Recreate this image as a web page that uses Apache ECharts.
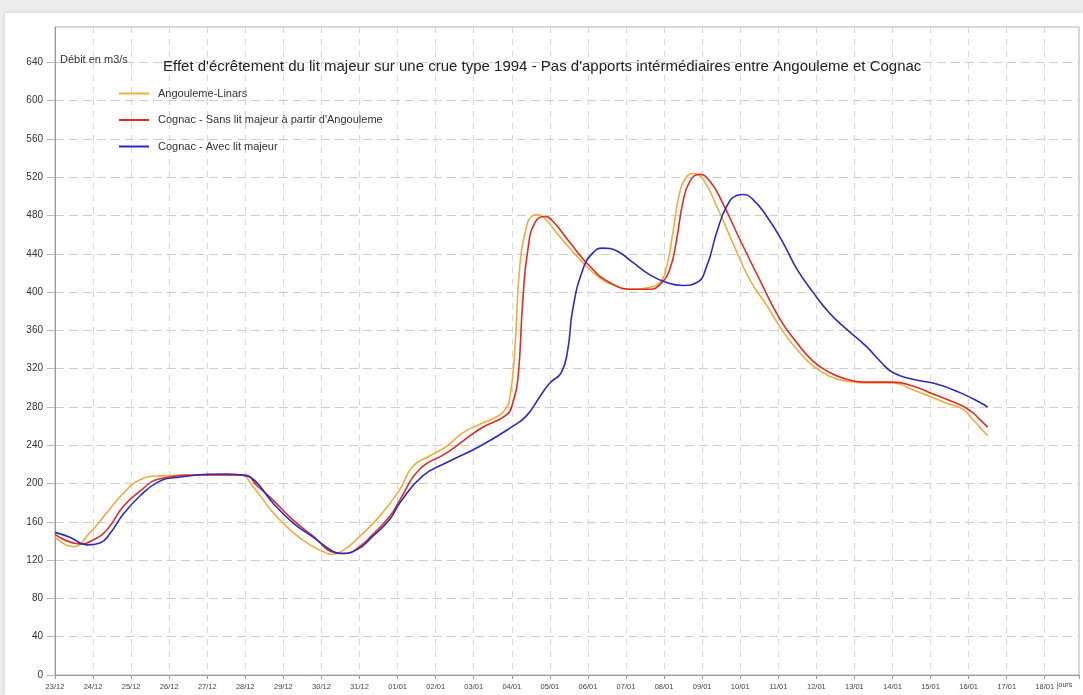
<!DOCTYPE html>
<html>
<head>
<meta charset="utf-8">
<script src="https://cdn.jsdelivr.net/npm/echarts@6/dist/echarts.min.js"></script>
<style>
  html, body { margin: 0; padding: 0; width: 1083px; height: 695px; overflow: hidden; background: #ececec; }
  #panel { position: absolute; left: 5px; top: 13px; right: 0; bottom: 0; background: #fff; box-shadow: -1px -1px 3px rgba(0,0,0,0.08); }
  #chart { position: absolute; left: 0; top: 0; width: 1083px; height: 695px; }
</style>
</head>
<body>
<div id="panel"></div>
<div id="chart"></div>
<script>
// Day labels along the time axis (day 0 = 23/12)
const dayLabels = ['23/12', '24/12', '25/12', '26/12', '27/12', '28/12', '29/12', '30/12', '31/12',
  '01/01', '02/01', '03/01', '04/01', '05/01', '06/01', '07/01', '08/01', '09/01', '10/01',
  '11/01', '12/01', '13/01', '14/01', '15/01', '16/01', '17/01', '18/01'];

// Flow tick values on the vertical axis
const flowTicks = [0, 40, 80, 120, 160, 200, 240, 280, 320, 360, 400, 440, 480, 520, 560, 600, 640];

const seriesNames = ['Angouleme-Linars', 'Cognac - Sans lit majeur à partir d\'Angouleme', 'Cognac - Avec lit majeur'];

// Flow (m3/s) against time in days since 23/12
const angoulemeLinars = [
  [0, 144], [0.47, 134], [0.9, 148], [1.37, 170], [1.8, 190], [2.23, 204], [2.76, 208], [3.81, 209], [4.86, 209],
  [5.2, 197], [5.72, 170], [6.25, 149], [6.7, 136], [7.04, 129], [7.27, 126], [7.6, 131], [7.93, 142],
  [8.53, 166], [9.06, 194], [9.4, 218], [9.85, 229], [10.29, 239], [10.71, 253], [11.16, 262], [11.61, 270],
  [11.82, 277], [11.95, 290], [12.08, 340], [12.21, 427], [12.39, 469], [12.52, 479], [12.66, 481], [12.81, 479],
  [13.26, 458], [13.79, 434], [14.31, 415], [14.76, 406], [15.18, 403], [15.63, 405], [15.89, 410],
  [16.07, 427], [16.23, 462], [16.41, 504], [16.6, 521], [16.75, 524], [17.02, 518], [17.38, 490],
  [17.8, 452], [18.25, 413], [18.7, 386], [19.12, 359], [19.56, 337], [19.91, 323], [20.35, 312],
  [20.8, 307], [21.4, 305], [22.01, 305], [22.53, 298], [22.98, 291], [23.42, 284], [23.84, 278],
  [24.11, 267], [24.29, 259], [24.5, 250]
];

const cognacSansLitMajeur = [
  [0, 147], [0.66, 137], [1.0, 141], [1.37, 152], [1.79, 176], [2.23, 192], [2.76, 205], [3.81, 209], [4.99, 209],
  [5.3, 198], [5.72, 183], [6.25, 162], [6.78, 145], [7.35, 128], [7.62, 127], [8.0, 134], [8.35, 147],
  [8.8, 166], [9.06, 183], [9.58, 215], [10.29, 232], [11.16, 257], [11.87, 272], [12.03, 285],
  [12.16, 309], [12.29, 392], [12.42, 444], [12.61, 473], [12.87, 479], [13.08, 474], [13.52, 452],
  [14.05, 427], [14.57, 410], [15.18, 403], [15.63, 403], [15.89, 408], [16.15, 424], [16.33, 455],
  [16.49, 493], [16.68, 516], [16.94, 523], [17.2, 516], [17.54, 493], [17.99, 455], [18.51, 413],
  [19.04, 372], [19.49, 347], [19.91, 328], [20.35, 316], [20.8, 309], [21.22, 306], [22.01, 306],
  [22.53, 302], [22.98, 295], [23.42, 288], [23.84, 281], [24.11, 274], [24.29, 267], [24.5, 259]
];

const cognacAvecLitMajeur = [
  [0, 149], [0.39, 144], [0.84, 136], [1.18, 138], [1.45, 148], [1.79, 168], [2.23, 187], [2.68, 201],
  [3.1, 206], [4.52, 210], [5.04, 208], [5.3, 201], [5.72, 180], [6.25, 159], [6.78, 144], [7.3, 129],
  [7.48, 127], [7.93, 131], [8.35, 145], [8.8, 163], [9.06, 180], [9.66, 208], [10.29, 222], [11.16, 239],
  [12.03, 260], [12.39, 271], [12.74, 291], [13.0, 305], [13.3, 316], [13.47, 340], [13.6, 382],
  [13.87, 424], [14.13, 441], [14.39, 446], [14.76, 443], [15.18, 431], [15.63, 418], [16.07, 410],
  [16.49, 407], [16.86, 410], [17.12, 427], [17.38, 462], [17.65, 490], [17.91, 501], [18.07, 502],
  [18.33, 497], [18.7, 479], [19.12, 452], [19.49, 424], [19.91, 400], [20.35, 378], [20.8, 361],
  [21.32, 343], [21.67, 328], [22.01, 316], [22.53, 309], [23.16, 304], [23.77, 295], [24.29, 285], [24.5, 280]
];

const seriesColors = ['#f0ad3c', '#e42a25', '#2b2bc4'];
const seriesData = [angoulemeLinars, cognacSansLitMajeur, cognacAvecLitMajeur];

const chart = echarts.init(document.getElementById('chart'), null, { renderer: 'canvas' });

const font = 'Liberation Sans, Arial, sans-serif';

chart.setOption({
  backgroundColor: 'transparent',
  animation: false,
  title: [
    {
      text: 'Effet d\'écrêtement du lit majeur sur une crue type 1994 - Pas d\'apports intérmédiaires entre Angouleme et Cognac',
      left: 158, top: 54,
      textStyle: { fontFamily: font, fontSize: 15, fontWeight: 'normal', color: '#222' }
    },
    {
      text: 'Débit en m3/s',
      left: 55, top: 49,
      textStyle: { fontFamily: font, fontSize: 11, fontWeight: 'normal', color: '#333' }
    },
    {
      text: 'jours',
      left: 1052, top: 677,
      textStyle: { fontFamily: font, fontSize: 7, fontWeight: 'normal', color: '#444' }
    }
  ],
  legend: {
    orient: 'vertical',
    left: 114, top: 83,
    itemWidth: 30, itemHeight: 2,
    itemGap: 15.5,
    icon: 'rect',
    data: seriesNames,
    textStyle: { fontFamily: font, fontSize: 11, color: '#333', padding: [0, 0, 0, 4] }
  },
  grid: {
    left: 55, top: 27, right: 4, bottom: 20,
    show: true, borderColor: '#b0b0b0', borderWidth: 1
  },
  xAxis: {
    type: 'value',
    min: 0, max: 26.9, interval: 1,
    axisLine: { show: true, lineStyle: { color: '#9a9a9a', width: 1 } },
    axisTick: { show: true, length: 4, lineStyle: { color: '#9a9a9a' } },
    axisLabel: {
      fontFamily: font, fontSize: 7.5, color: '#444', margin: 8,
      formatter: function (v) {
        const i = Math.round(v);
        return Math.abs(v - i) < 1e-6 && dayLabels[i] ? dayLabels[i] : '';
      }
    },
    splitLine: { show: true, lineStyle: { color: '#d6d6d6', type: [6, 6], width: 1 } }
  },
  yAxis: {
    type: 'value',
    min: 0, max: 677, interval: 40,
    axisLine: { show: true, lineStyle: { color: '#9a9a9a', width: 1 } },
    axisTick: { show: true, length: 8, customValues: flowTicks, lineStyle: { color: '#bbb' } },
    axisLabel: {
      fontFamily: font, fontSize: 10, color: '#333', margin: 12,
      customValues: flowTicks,
      formatter: function (v) { return String(v); }
    },
    splitLine: { show: true, lineStyle: { color: '#cdcdcd', type: [9, 5], width: 1 } }
  },
  series: seriesNames.map(function (name, k) {
    return {
      name: name,
      type: 'line',
      data: seriesData[k],
      showSymbol: false,
      smooth: 0.5,
      color: seriesColors[k],
      lineStyle: { color: seriesColors[k], width: 1.6 },
      z: 2 + k
    };
  })
});
</script>
</body>
</html>
